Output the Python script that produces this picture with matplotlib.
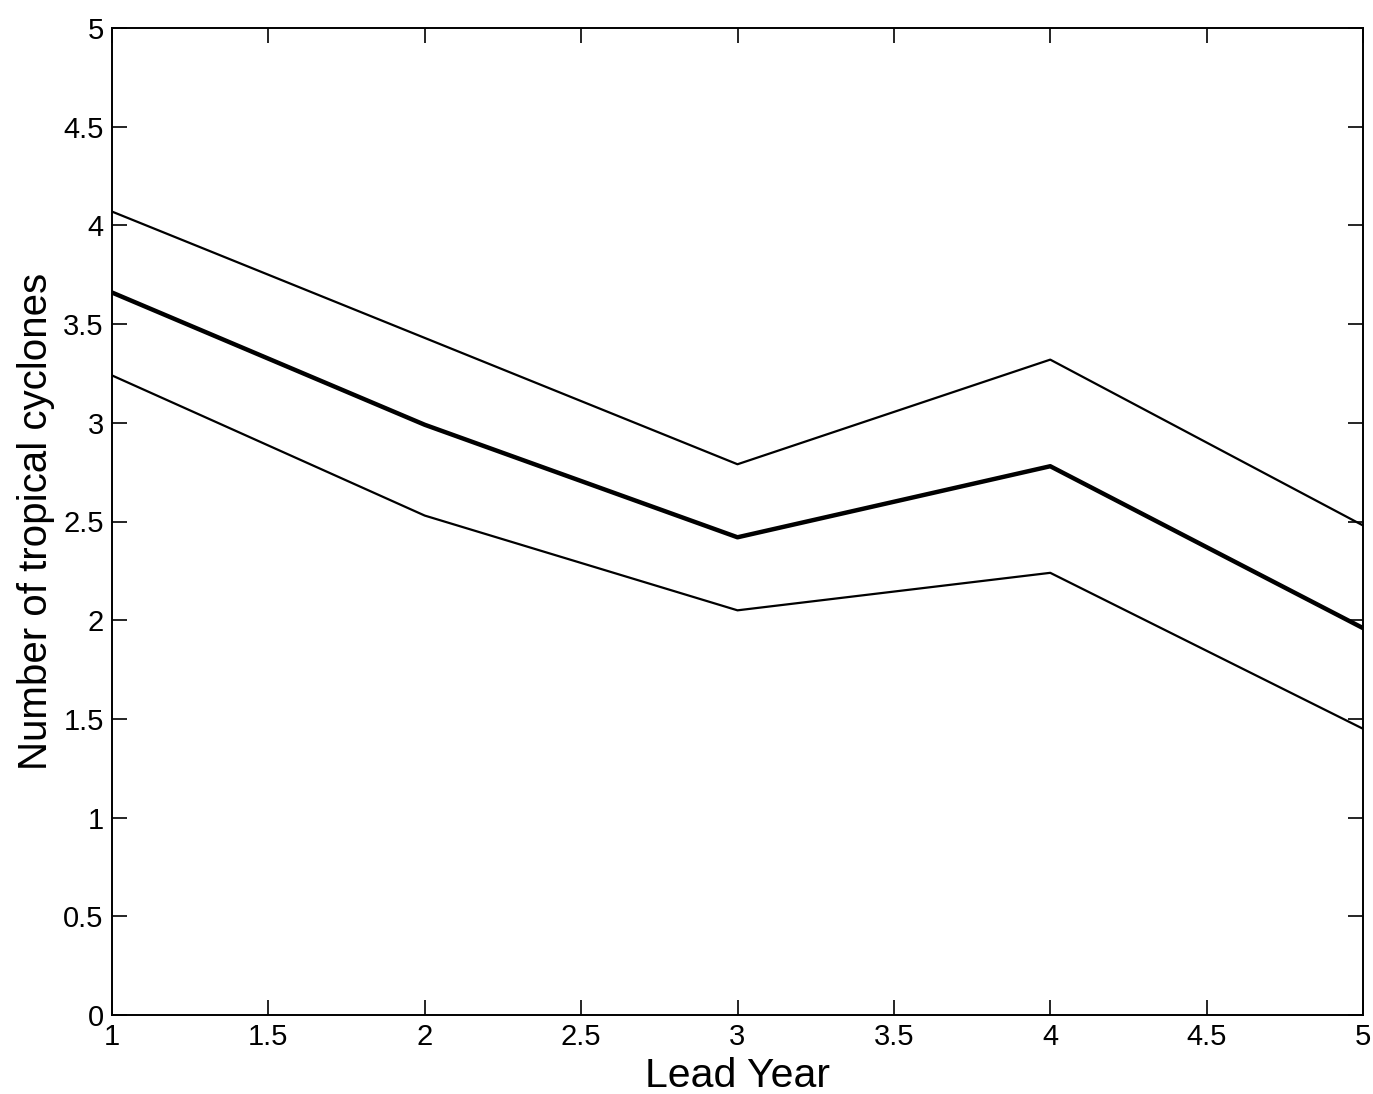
import matplotlib
matplotlib.use("Agg")
import matplotlib.pyplot as plt

lead_year = [1, 2, 3, 4, 5]
upper = [4.07, 3.43, 2.79, 3.32, 2.48]
mean = [3.66, 2.99, 2.42, 2.78, 1.96]
lower = [3.24, 2.53, 2.05, 2.24, 1.45]
xticks = [1, 1.5, 2, 2.5, 3, 3.5, 4, 4.5, 5]
yticks = [0, 0.5, 1, 1.5, 2, 2.5, 3, 3.5, 4, 4.5, 5]

plt.rcParams['font.family'] = ['Liberation Sans', 'DejaVu Sans']

fig = plt.figure(figsize=(13.73, 10.94), dpi=100)
ax = fig.add_axes([112/1373, 1 - 1015/1094, (1363-112)/1373, (1015-28)/1094])

ax.plot(lead_year, upper, color='black', lw=1.6)
ax.plot(lead_year, mean, color='black', lw=3.2)
ax.plot(lead_year, lower, color='black', lw=1.6)

ax.set_xlim(1, 5)
ax.set_ylim(0, 5)
ax.set_xticks(xticks)
ax.set_xticklabels([f"{t:g}" for t in xticks])
ax.set_yticks(yticks)
ax.set_yticklabels([f"{t:g}" for t in yticks])
ax.tick_params(direction='in', length=11, width=1.2, labelsize=21,
               top=True, right=True, pad=6)
for s in ax.spines.values():
    s.set_linewidth(1.4)
ax.set_xlabel("Lead Year", fontsize=29.5, labelpad=4)
ax.set_ylabel("Number of tropical cyclones", fontsize=29, labelpad=6)

fig.savefig("out.png", dpi=100, facecolor='white')
